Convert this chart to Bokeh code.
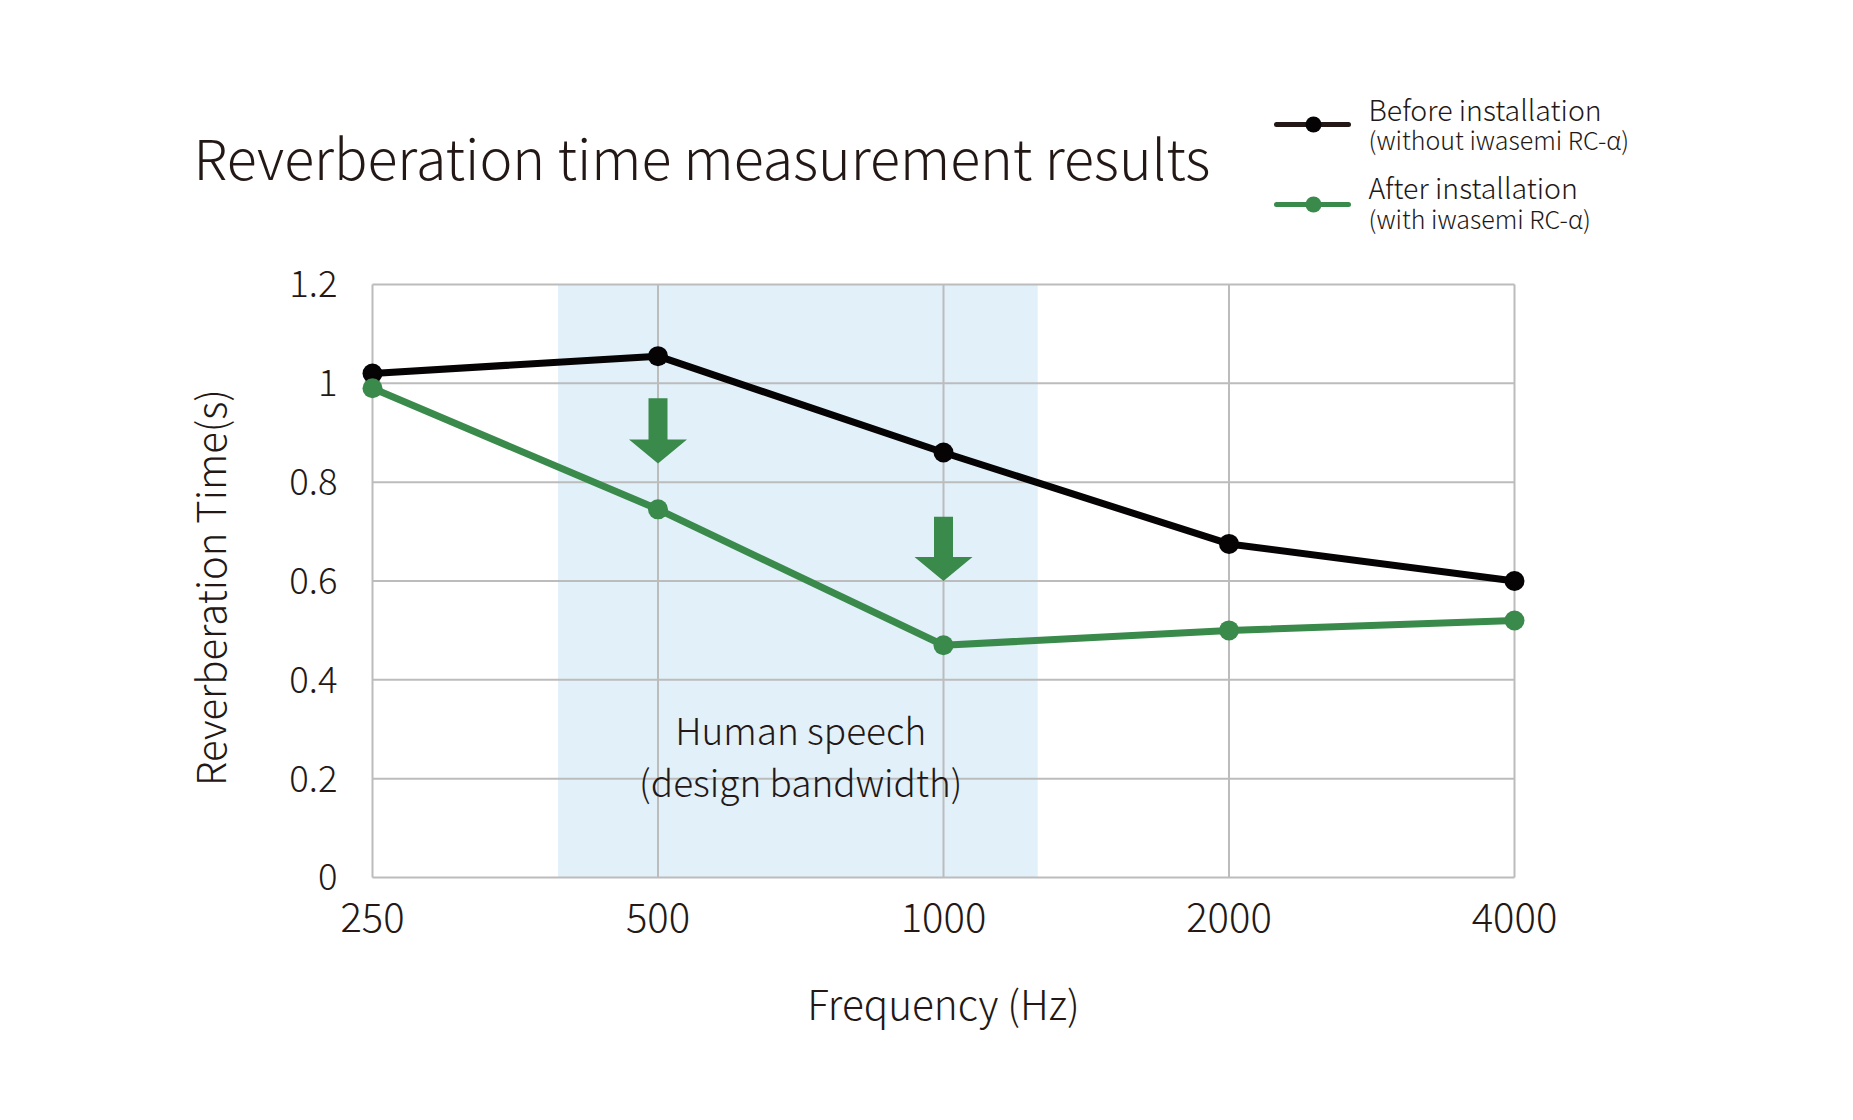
import math
from bokeh.plotting import figure
from bokeh.models import Range1d
from bokeh.core.properties import value
from bokeh.embed import file_html
from bokeh.resources import INLINE

# ---------------- data ----------------
frequencies = ["250", "500", "1000", "2000", "4000"]
before_installation = [1.02, 1.055, 0.86, 0.675, 0.60]
after_installation = [0.99, 0.745, 0.47, 0.50, 0.52]
y_ticks = [0, 0.2, 0.4, 0.6, 0.8, 1.0, 1.2]
y_tick_labels = ["0", "0.2", "0.4", "0.6", "0.8", "1", "1.2"]
speech_band = [0.65, 2.33]          # octave-position of the speech band edges
arrow_positions = [1, 2]            # under 500 Hz and 1000 Hz
arrow_tops = [0.97, 0.73]
arrow_tips = [0.838, 0.60]
series_names = ["Before installation", "After installation"]
series_notes = ["(without iwasemi RC-\u03b1)", "(with iwasemi RC-\u03b1)"]
title_text = "Reverberation time measurement results"
x_title = "Frequency (Hz)"
y_title = "Reverberation Time(s)"
band_text = ["Human speech", "(design bandwidth)"]

FONT = "Noto Sans CJK JP Light"
TEXT = "#231815"
BLACK = "#050303"
LEGEND_BLACK = "#231815"
GREEN = "#3a8a4c"
GRID = "#bcbcbc"
BAND = "#e2f0fa"
BASE_SHIFT = 0.49   # em: rendered alphabetic baseline sits this much lower

# ---------------- geometry (page pixels) ----------------
FW, FH = 1837, 1104
BOX_L, BOX_R, BOX_T, BOX_B = 372, 1514, 284, 877
xs = list(range(len(frequencies)))
XMAX = len(frequencies) - 1
YMAX = y_ticks[-1]
PX_X = (BOX_R - BOX_L) / XMAX
PX_Y = (BOX_B - BOX_T) / YMAX


def PX(x_page):
    return (x_page - BOX_L) / PX_X


def PY(y_page):
    return (BOX_B - y_page) / PX_Y


p = figure(width=FW, height=FH, x_range=Range1d(PX(0), PX(FW)), y_range=Range1d(PY(FH), PY(0)),
           output_backend="svg", toolbar_location=None,
           x_axis_location=None, y_axis_location=None, min_border=0)
p.background_fill_color = "white"
p.border_fill_color = "white"
p.outline_line_color = None
p.xgrid.visible = False
p.ygrid.visible = False


def txt(x, y, text, size, align="left", angle=0.0, font=FONT):
    p.text(x=x, y=y, text=text, text_font=value(font), text_font_size=value(f"{size}px"),
           text_color=TEXT, text_align=align, text_baseline="alphabetic", angle=angle)


# speech band
p.quad(left=[speech_band[0]], right=[speech_band[1]], bottom=[y_ticks[0]], top=[YMAX],
       fill_color=BAND, line_color=None)

# grid + box
p.segment(x0=xs, x1=xs, y0=[y_ticks[0]] * len(xs), y1=[YMAX] * len(xs),
          line_color=GRID, line_width=2)
p.segment(x0=[0] * len(y_ticks), x1=[XMAX] * len(y_ticks), y0=y_ticks, y1=y_ticks,
          line_color=GRID, line_width=2)

# tick labels
XT = 40
txt(xs, [PY(937 - BASE_SHIFT * XT)] * len(xs), frequencies, XT, align="center")
YT = 36.5
txt([PX(337)] * len(y_ticks), [t - (0.366 * YT - BASE_SHIFT * YT + 4) / PX_Y for t in y_ticks],
    y_tick_labels, YT, align="right")

# axis titles
AT = 40.5
txt([XMAX / 2], [PY(1022 - BASE_SHIFT * AT)], [x_title], AT, align="center")
txt([PX(228 - BASE_SHIFT * AT)], [PY(587)], [y_title], 40, align="center", angle=math.pi / 2)

# arrows
shaft_half = 9.5 / PX_X
head_half = 29 / PX_X
head_h = 24 / PX_Y
arrow_xs, arrow_ys = [], []
for ax_, top, tip in zip(arrow_positions, arrow_tops, arrow_tips):
    hb = tip + head_h
    arrow_xs.append([ax_ - shaft_half, ax_ + shaft_half, ax_ + shaft_half, ax_ + head_half,
                     ax_, ax_ - head_half, ax_ - shaft_half])
    arrow_ys.append([top, top, hb, hb, tip, hb, hb])
p.patches(arrow_xs, arrow_ys, fill_color=GREEN, line_color=None)

# series
p.line(xs, before_installation, line_width=7, line_color=BLACK)
p.scatter(xs, before_installation, size=20, fill_color=BLACK, line_color=None)
p.line(xs, after_installation, line_width=7, line_color=GREEN)
p.scatter(xs, after_installation, size=20, fill_color=GREEN, line_color=None)

# band text
BT = 37
band_mid = (speech_band[0] + speech_band[1]) / 2 + 0.01
txt([band_mid] * 2, [PY(747 - BASE_SHIFT * BT), PY(799 - BASE_SHIFT * BT)], band_text, BT,
    align="center")

# title
TT = 55.5
txt([PX(193)], [PY(183 - BASE_SHIFT * TT)], [title_text], TT)

# legend
legend_y = [124, 204]
p.segment(x0=[PX(1276)] * 2, x1=[PX(1348)] * 2, y0=[PY(v) for v in legend_y],
          y1=[PY(v) for v in legend_y], line_color=[LEGEND_BLACK, GREEN], line_width=5,
          line_cap="round")
p.scatter(x=[PX(1313)] * 2, y=[PY(v) for v in legend_y], size=16,
          fill_color=[BLACK, GREEN], line_color=None)
LT, ST = 28.5, 25
txt([PX(1368)] * 2, [PY(v - BASE_SHIFT * LT) for v in (122, 200)], series_names, LT)
txt([PX(1368)] * 2, [PY(v - BASE_SHIFT * ST) for v in (151, 230)], series_notes, ST)

open("out.html", "w").write(file_html(p, INLINE))
